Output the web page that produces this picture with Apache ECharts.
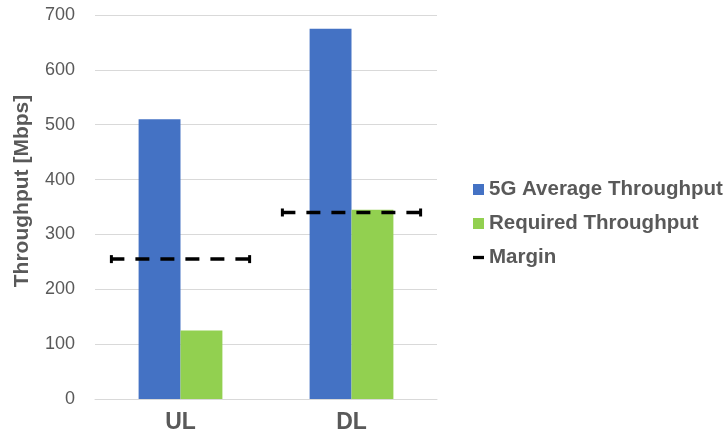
<!DOCTYPE html>
<html>
<head>
<meta charset="utf-8">
<script src="https://cdn.jsdelivr.net/npm/echarts@6/dist/echarts.min.js"></script>
<style>
  html, body { margin: 0; padding: 0; background: #fff; }
  #chart { width: 728px; height: 441px; }
</style>
</head>
<body>
<div id="chart"></div>
<script>
// Link directions
const categories = ['UL', 'DL'];
// Measured average 5G throughput per direction [Mbps]
const avgThroughput = [510, 675];
// Throughput needed by the application [Mbps]
const requiredThroughput = [125, 345];
// Margin level per direction [Mbps]
const marginLevel = [255, 340];
// Y-axis ticks
const yMin = 0, yMax = 700, yStep = 100;

const FONT = 'Liberation Sans, Arial, sans-serif';
const GRAY = '#595959';

const chart = echarts.init(document.getElementById('chart'), null, { renderer: 'canvas' });

// Horizontal dashed bar with small end caps, centred on each category
function renderMargin(params, api) {
  const c = api.coord([api.value(0), api.value(1)]);
  const band = api.size([1, 0])[0];
  const half = band * 0.41;
  const x0 = c[0] - half, x1 = c[0] + half, y = c[1];
  return {
    type: 'group',
    children: [
      {
        type: 'line',
        shape: { x1: x0, y1: y, x2: x1, y2: y },
        style: { stroke: '#000', lineWidth: 3.5, lineDash: [14, 11] }
      },
      {
        type: 'line',
        shape: { x1: x0 + 1, y1: y - 4, x2: x0 + 1, y2: y + 4 },
        style: { stroke: '#000', lineWidth: 3 }
      },
      {
        type: 'line',
        shape: { x1: x1 - 1, y1: y - 4, x2: x1 - 1, y2: y + 4 },
        style: { stroke: '#000', lineWidth: 3 }
      }
    ]
  };
}

chart.setOption({
  animation: false,
  grid: { left: 95, right: 291, top: 15, bottom: 42, containLabel: false },
  legend: {
    orient: 'vertical',
    left: 468,
    top: 174,
    itemWidth: 11,
    itemHeight: 11,
    itemGap: 13,
    textStyle: { fontFamily: FONT, fontSize: 20.5, fontWeight: 'bold', color: GRAY },
    data: [
      { name: '5G Average Throughput', icon: 'rect' },
      { name: 'Required Throughput', icon: 'rect' },
      { name: 'Margin', icon: 'path://M0,4h10v3h-10z' }
    ]
  },
  xAxis: {
    type: 'category',
    data: categories,
    axisLine: { show: true, lineStyle: { color: '#d9d9d9', width: 1 } },
    axisTick: { show: false },
    axisLabel: { fontFamily: FONT, fontSize: 23, fontWeight: 'bold', color: GRAY, margin: 12 }
  },
  yAxis: {
    type: 'value',
    min: yMin,
    max: yMax,
    interval: yStep,
    axisLine: { show: false },
    axisTick: { show: false },
    splitLine: { lineStyle: { color: '#d9d9d9', width: 1 } },
    axisLabel: { fontFamily: FONT, fontSize: 18, color: GRAY, margin: 20 }
  },
  graphic: [
    {
      type: 'text',
      x: 22,
      y: 191,
      rotation: Math.PI / 2,
      style: {
        text: 'Throughput [Mbps]',
        fontFamily: FONT,
        fontSize: 21,
        fontWeight: 'bold',
        fill: GRAY,
        align: 'center',
        verticalAlign: 'middle'
      }
    }
  ],
  series: [
    {
      name: '5G Average Throughput',
      type: 'bar',
      data: avgThroughput,
      barGap: '0%',
      barCategoryGap: '51%',
      itemStyle: { color: '#4472c4' }
    },
    {
      name: 'Required Throughput',
      type: 'bar',
      data: requiredThroughput,
      itemStyle: { color: '#92d050' }
    },
    {
      name: 'Margin',
      type: 'custom',
      itemStyle: { color: '#000' },
      data: marginLevel.map((v, i) => [i, v]),
      encode: { x: 0, y: 1 },
      renderItem: renderMargin,
      z: 5
    }
  ]
});
</script>
</body>
</html>
